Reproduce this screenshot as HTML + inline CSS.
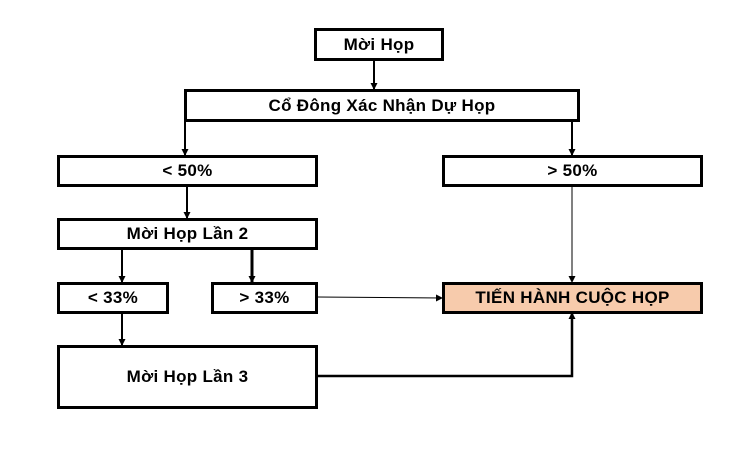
<!DOCTYPE html>
<html><head><meta charset="utf-8"><style>
body{margin:0;background:#fff;width:748px;height:450px;overflow:hidden;position:relative;font-family:"Liberation Sans","DejaVu Sans",sans-serif;}
.b{position:absolute;box-sizing:border-box;border:3px solid #000;background:#fff;display:flex;align-items:center;justify-content:center;font-weight:bold;font-size:17px;letter-spacing:0.3px;color:#000;white-space:nowrap;}
svg{position:absolute;left:0;top:0}
</style></head><body>
<svg width="748" height="450">
<defs><marker id="a" markerWidth="7" markerHeight="7" refX="6" refY="3.5" orient="auto" markerUnits="userSpaceOnUse"><path d="M0,0 L7,3.5 L0,7z" fill="#000"/></marker></defs>
<g stroke="#000" fill="none">
<line x1="374" y1="60" x2="374" y2="89" stroke-width="2" marker-end="url(#a)"/>
<line x1="185" y1="121" x2="185" y2="155" stroke-width="2" marker-end="url(#a)"/>
<line x1="572" y1="121" x2="572" y2="155" stroke-width="2" marker-end="url(#a)"/>
<line x1="187" y1="186" x2="187" y2="218" stroke-width="2" marker-end="url(#a)"/>
<line x1="122" y1="249" x2="122" y2="282" stroke-width="2" marker-end="url(#a)"/>
<line x1="252" y1="249" x2="252" y2="282" stroke-width="3" marker-end="url(#a)"/>
<line x1="122" y1="313" x2="122" y2="345" stroke-width="2" marker-end="url(#a)"/>
<line x1="572" y1="186" x2="572" y2="282" stroke-width="1" marker-end="url(#a)"/>
<line x1="317" y1="297" x2="442" y2="298" stroke-width="1" marker-end="url(#a)"/>
<polyline points="317,376 572,376 572,313" stroke-width="2.5" marker-end="url(#a)"/>
</g></svg>
<div class="b" style="left:314px;top:28px;width:130px;height:33px">Mời Họp</div>
<div class="b" style="left:184px;top:89px;width:396px;height:33px">Cổ Đông Xác Nhận Dự Họp</div>
<div class="b" style="left:57px;top:155px;width:261px;height:32px">&lt; 50%</div>
<div class="b" style="left:442px;top:155px;width:261px;height:32px">&gt; 50%</div>
<div class="b" style="left:57px;top:218px;width:261px;height:32px">Mời Họp Lần 2</div>
<div class="b" style="left:57px;top:282px;width:112px;height:32px">&lt; 33%</div>
<div class="b" style="left:211px;top:282px;width:107px;height:32px">&gt; 33%</div>
<div class="b" style="left:442px;top:282px;width:261px;height:32px;background:#f7cbac">TIẾN HÀNH CUỘC HỌP</div>
<div class="b" style="left:57px;top:345px;width:261px;height:64px">Mời Họp Lần 3</div>
</body></html>
